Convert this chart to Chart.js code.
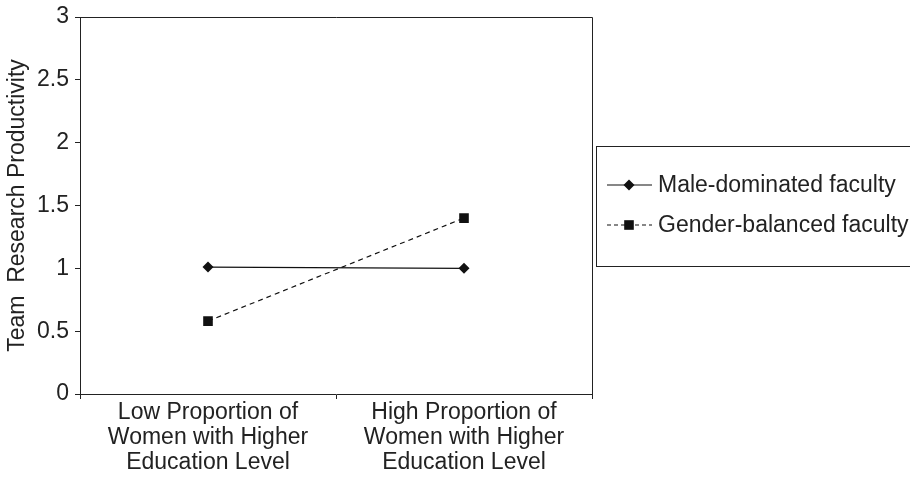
<!DOCTYPE html>
<html>
<head>
<meta charset="utf-8">
<script src="https://cdn.jsdelivr.net/npm/chart.js@4.4.1/dist/chart.umd.min.js"></script>
<style>
  html, body { margin: 0; padding: 0; background: #fff; }
  #wrap { width: 910px; height: 479px; }
</style>
</head>
<body>
<div id="wrap"><canvas id="myChart" width="910" height="479"></canvas></div>
<script>
"use strict"
let categories = [
    ["Low Proportion of", "Women with Higher", "Education Level"],
    ["High Proportion of", "Women with Higher", "Education Level"]
];
let maleValues = [1.01, 1.0];
let balancedValues = [0.58, 1.40];
let seriesNames = ["Male-dominated faculty", "Gender-balanced faculty"];
let yTicks = [0, 0.5, 1, 1.5, 2, 2.5, 3];
let yTitle = "Team  Research Productivity";

let fontFamily = "'Liberation Sans', Arial, Helvetica, sans-serif";
let fontSize = 23;
let textColor = "#222";

// box round plot area + legend box on the right
let boxPlugin = {
    id: "boxPlugin",
    afterDraw: function (chart) {
        let ctx = chart.ctx;
        let a = chart.chartArea;
        ctx.save();
        ctx.strokeStyle = "#222";
        ctx.lineWidth = 1;
        ctx.beginPath();
        ctx.moveTo(a.left, a.top + 0.5);
        ctx.lineTo(a.right + 0.5, a.top + 0.5);
        ctx.lineTo(a.right + 0.5, a.bottom);
        ctx.stroke();

        // legend
        let lx = a.right + 4;
        ctx.strokeRect(lx + 0.5, 146.5, 330, 120);
        ctx.font = fontSize + "px " + fontFamily;
        ctx.textBaseline = "middle";
        let rows = [185, 225];
        for (let i = 0; i < chart.data.datasets.length; i++) {
            let ds = chart.data.datasets[i];
            let y = rows[i];
            ctx.strokeStyle = "#111";
            ctx.lineWidth = 1.2;
            ctx.setLineDash(i == 0 ? [] : [4, 3]);
            ctx.beginPath();
            ctx.moveTo(lx + 11, y);
            ctx.lineTo(lx + 56, y);
            ctx.stroke();
            ctx.setLineDash([]);
            ctx.fillStyle = "#111";
            Chart.helpers.drawPoint(ctx, {
                pointStyle: ds.pointStyle,
                radius: ds.pointRadius,
                borderWidth: 0
            }, lx + 33, y);
            ctx.fillStyle = textColor;
            ctx.fillText(ds.label, lx + 62, y + 1);
        }
        ctx.restore();
    }
};

let ctx = document.getElementById("myChart").getContext("2d");
let myChart = new Chart(ctx, {
    type: "line",
    data: {
        labels: categories,
        datasets: [
            {
                label: seriesNames[0],
                data: maleValues,
                borderColor: "#111",
                backgroundColor: "#111",
                borderWidth: 1.2,
                pointStyle: "rectRot",
                pointRadius: 5.5,
                pointBorderWidth: 0,
                tension: 0
            },
            {
                label: seriesNames[1],
                data: balancedValues,
                borderColor: "#111",
                backgroundColor: "#111",
                borderWidth: 1.2,
                borderDash: [5, 4],
                pointStyle: "rect",
                pointRadius: 6.8,
                pointBorderWidth: 0,
                tension: 0
            }
        ]
    },
    options: {
        responsive: false,
        animation: false,
        layout: { padding: { top: 17, right: 318, left: 0, bottom: 0 } },
        plugins: {
            legend: { display: false },
            tooltip: { enabled: false }
        },
        scales: {
            x: {
                offset: true,
                grid: {
                    offset: true,
                    drawOnChartArea: false,
                    drawTicks: true,
                    tickLength: 5,
                    color: "#222"
                },
                border: { color: "#222", width: 1 },
                ticks: {
                    color: textColor,
                    font: { family: fontFamily, size: fontSize, lineHeight: 25 / fontSize },
                    padding: 1,
                    maxRotation: 0,
                    autoSkip: false
                },
                afterFit: function (scale) { scale.height = 85; }
            },
            y: {
                min: 0,
                max: 3,
                afterBuildTicks: function (scale) {
                    scale.ticks = yTicks.map(function (v) { return { value: v }; });
                },
                grid: {
                    drawOnChartArea: false,
                    drawTicks: true,
                    tickLength: 5,
                    color: "#222"
                },
                border: { color: "#222", width: 1 },
                ticks: {
                    color: textColor,
                    font: { family: fontFamily, size: fontSize },
                    padding: 6,
                    callback: function (v) { return String(v); }
                },
                title: {
                    display: true,
                    text: yTitle,
                    color: textColor,
                    font: { family: fontFamily, size: fontSize },
                    padding: { top: 4, bottom: 4 }
                },
                afterFit: function (scale) {
                    scale.width = 80;
                    scale.paddingTop = 0;
                    scale.paddingBottom = 0;
                }
            }
        }
    },
    plugins: [boxPlugin]
});
</script>
</body>
</html>
